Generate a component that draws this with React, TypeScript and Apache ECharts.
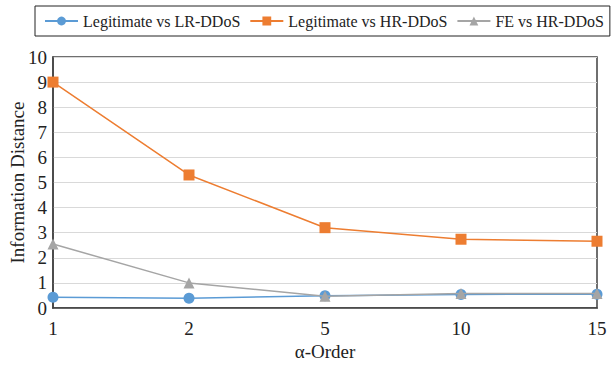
import React, { useEffect, useRef } from "react";
import * as echarts from "echarts";

const categories = ["1", "2", "5", "10", "15"];
const lrDdos = [0.43, 0.39, 0.49, 0.54, 0.55];
const hrDdos = [9.0, 5.3, 3.2, 2.74, 2.66];
const feHrDdos = [2.55, 1.0, 0.47, 0.58, 0.58];
const yTicks = { min: 0, max: 10, interval: 1 };

const FONT = "'Liberation Serif', 'DejaVu Serif', serif";

export default function App() {
  const ref = useRef<HTMLDivElement>(null);
  useEffect(() => {
    if (!ref.current) return;
    const chart = echarts.init(ref.current, undefined, { renderer: "svg" });
    chart.setOption({
      animation: false,
      textStyle: { fontFamily: FONT },
      legend: {
        top: 6,
        left: 35,
        width: 570,
        itemGap: 9,
        itemWidth: 33,
        itemHeight: 11,
        padding: [7, 6, 7, 9],
        borderColor: "#222",
        borderWidth: 1,
        textStyle: { fontFamily: FONT, fontSize: 16, color: "#222" },
        data: [
          "Legitimate vs LR-DDoS",
          "Legitimate vs HR-DDoS",
          "FE vs HR-DDoS",
        ],
      },
      grid: {
        left: 53,
        right: 14,
        top: 57,
        bottom: 59,
        outerBoundsMode: "none",
        containLabel: false,
        show: true,
        borderColor: "#404040",
        borderWidth: 1.5,
      },
      xAxis: {
        type: "category",
        data: categories,
        boundaryGap: false,
        name: "α-Order",
        nameLocation: "middle",
        nameGap: 34,
        nameMoveOverlap: false,
        nameTextStyle: { fontFamily: FONT, fontSize: 19, color: "#222" },
        axisLine: { lineStyle: { color: "#404040", width: 1.5 } },
        axisTick: { show: false },
        axisLabel: { fontFamily: FONT, fontSize: 19, color: "#222", margin: 11 },
      },
      yAxis: {
        type: "value",
        min: yTicks.min,
        max: yTicks.max,
        interval: yTicks.interval,
        name: "Information Distance",
        nameLocation: "middle",
        nameGap: 26,
        nameMoveOverlap: false,
        nameTextStyle: { fontFamily: FONT, fontSize: 19, color: "#222" },
        axisLine: { show: true, lineStyle: { color: "#404040", width: 1.5 } },
        axisTick: { show: false },
        axisLabel: { fontFamily: FONT, fontSize: 19, color: "#222", margin: 6 },
        splitLine: { lineStyle: { color: "#d9d9d9", width: 1.2 } },
      },
      series: [
        {
          name: "Legitimate vs LR-DDoS",
          type: "line",
          data: lrDdos,
          symbol: "circle",
          symbolSize: 11,
          itemStyle: { color: "#5b9bd5" },
          lineStyle: { color: "#5b9bd5", width: 1.5 },
          z: 3,
        },
        {
          name: "Legitimate vs HR-DDoS",
          type: "line",
          data: hrDdos,
          symbol: "rect",
          symbolSize: 11,
          itemStyle: { color: "#ed7d31" },
          lineStyle: { color: "#ed7d31", width: 1.5 },
          z: 4,
        },
        {
          name: "FE vs HR-DDoS",
          type: "line",
          data: feHrDdos,
          symbol: "triangle",
          symbolSize: 11,
          itemStyle: { color: "#a5a5a5" },
          lineStyle: { color: "#a5a5a5", width: 1.5 },
          z: 5,
        },
      ],
    });
    return () => chart.dispose();
  }, []);
  return <div ref={ref} style={{ width: 611, height: 367, position: "absolute", left: 0, top: 0 }} />;
}
